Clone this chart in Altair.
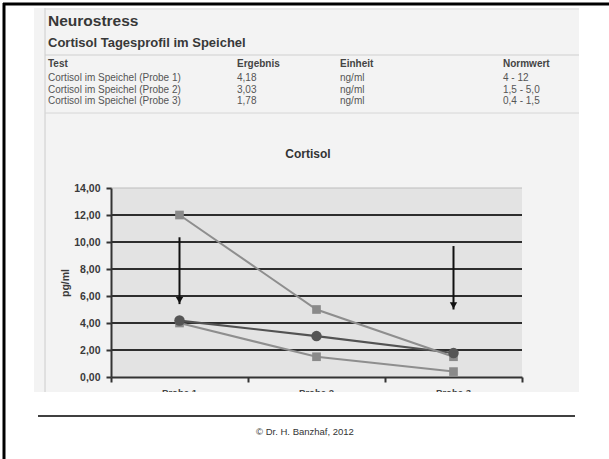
import altair as alt
import pandas as pd

# ---------------- data ----------------
categories = ["Probe 1", "Probe 2", "Probe 3"]
ergebnis = [4.18, 3.03, 1.78]
norm_oben = [12.0, 5.0, 1.5]
norm_unten = [4.0, 1.5, 0.4]
y_ticks = [0, 2, 4, 6, 8, 10, 12, 14]
grid_values = [2, 4, 6, 8, 10, 12]
arrow_cat = ["Probe 1", "Probe 3"]
arrow_from = [10.35, 9.7]
arrow_to = [5.4, 5.0]

table_header = ["Test", "Ergebnis", "Einheit", "Normwert"]
table_test = ["Cortisol im Speichel (Probe 1)", "Cortisol im Speichel (Probe 2)",
              "Cortisol im Speichel (Probe 3)"]
table_ergebnis = ["4,18", "3,03", "1,78"]
table_einheit = ["ng/ml", "ng/ml", "ng/ml"]
table_normwert = ["4 - 12", "1,5 - 5,0", "0,4 - 1,5"]

title_main = "Neurostress"
title_sub = "Cortisol Tagesprofil im Speichel"
chart_title = "Cortisol"
footer = "\u00a9 Dr. H. Banzhaf, 2012"

# ---------------- layout helpers ----------------
FONT = "Liberation Sans"
W, H = 411, 189
OX, OY = 111, 188  # plot origin on the page


def px(x):
    return x - OX


def py(y):
    return y - OY


dummy = pd.DataFrame({"d": [0]})

rows = []
for name, vals in [("Ergebnis", ergebnis), ("Normwert oben", norm_oben),
                   ("Normwert unten", norm_unten)]:
    for i, (c, v) in enumerate(zip(categories, vals)):
        rows.append({"series": name, "cat": c, "pos": i + 1, "value": v})
df = pd.DataFrame(rows)
df_res = df[df.series == "Ergebnis"]
df_norm = df[df.series != "Ergebnis"]

xscale = alt.Scale(domain=[0.5, 3.5], nice=False, zero=False)
yscale = alt.Scale(domain=[0, 14], nice=False, zero=True)

x_axis = alt.Axis(values=[0.5, 1.5, 2.5, 3.5], labels=False, title=None, grid=False,
                  domainColor="#333333", domainWidth=2, tickColor="#333333",
                  tickWidth=2, tickSize=5, zindex=1)
y_axis = alt.Axis(values=y_ticks, grid=False, title="pg/ml",
                  labelExpr="replace(format(datum.value, '.2f'), '.', ',')",
                  labelFont=FONT, labelFontSize=10.5, labelFontWeight="bold",
                  labelColor="#3a3a3a", labelPadding=6,
                  titleFont=FONT, titleFontSize=10.5, titleFontWeight="bold",
                  titleColor="#3a3a3a", titlePadding=3,
                  domainColor="#333333", domainWidth=2, tickColor="#333333",
                  tickWidth=2, tickSize=5, zindex=1)


def X(field):
    return alt.X(field, scale=xscale, axis=x_axis)


def Y(field):
    return alt.Y(field, scale=yscale, axis=y_axis)


def rect(x1, x2, y1, y2, color):
    return alt.Chart(dummy).mark_rect(color=color).encode(
        x=alt.value(x1), x2=alt.value(x2), y=alt.value(y1), y2=alt.value(y2))


def hline(x1, x2, y, color, w=1.0):
    return alt.Chart(dummy).mark_rule(color=color, strokeWidth=w).encode(
        x=alt.value(x1), x2=alt.value(x2), y=alt.value(y))


def vline(x, y1, y2, color, w=1.0):
    return alt.Chart(dummy).mark_rule(color=color, strokeWidth=w).encode(
        x=alt.value(x), y=alt.value(y1), y2=alt.value(y2))


def text(t, x, y, size, weight="normal", color="#333333", align="left"):
    return alt.Chart(pd.DataFrame({"t": [t]})).mark_text(
        font=FONT, fontSize=size, fontWeight=weight, color=color, align=align,
        baseline="alphabetic").encode(text="t:N", x=alt.value(x), y=alt.value(y))


layers = []
# document background and frame lines
layers.append(rect(px(34), px(579), py(8), py(392), "#f3f3f3"))
layers.append(vline(px(45), py(8), py(392), "#cccccc"))
layers.append(hline(px(45), px(579), py(9), "#dddddd"))
layers.append(hline(px(45), px(579), py(55), "#cfcfcf"))
layers.append(hline(px(45), px(579), py(113), "#d6d6d6"))

# plot area fill
layers.append(rect(0, W, 0, H, "#e3e3e3"))

# grid lines
grid_df = pd.DataFrame({"value": grid_values})
layers.append(alt.Chart(grid_df).mark_rule(color="#2e2e2e", strokeWidth=2).encode(
    y=Y("value:Q"), x=alt.value(0), x2=alt.value(W)))
top_df = pd.DataFrame({"value": [14]})
layers.append(alt.Chart(top_df).mark_rule(color="#bdbdbd", strokeWidth=1).encode(
    y=Y("value:Q"), x=alt.value(0), x2=alt.value(W)))

# series lines
layers.append(alt.Chart(df_res).mark_line(color="#525252", strokeWidth=2.2).encode(
    x=X("pos:Q"), y=Y("value:Q")))
layers.append(alt.Chart(df_norm).mark_line(color="#8e8e8e", strokeWidth=2).encode(
    x=X("pos:Q"), y=Y("value:Q"), detail="series:N"))
layers.append(alt.Chart(df_norm).mark_point(shape="square", filled=True, opacity=1,
                                            color="#8a8a8a", size=75).encode(
    x=X("pos:Q"), y=Y("value:Q")))
layers.append(alt.Chart(df_res).mark_point(shape="circle", filled=True, opacity=1,
                                           color="#555555", size=110).encode(
    x=X("pos:Q"), y=Y("value:Q")))

# arrows
arr = pd.DataFrame({"cat": arrow_cat, "von": arrow_from, "bis": arrow_to})
arr["pos"] = [categories.index(c) + 1 for c in arrow_cat]
layers.append(alt.Chart(arr).mark_rule(color="#111111", strokeWidth=2).encode(
    x=X("pos:Q"), y=Y("von:Q"), y2="bis:Q"))
layers.append(alt.Chart(arr).mark_point(shape="triangle-down", filled=True, opacity=1,
                                        color="#111111", size=55, yOffset=-4).encode(
    x=X("pos:Q"), y=Y("bis:Q")))

# x category labels (cut off at the bottom of the scan)
lab = pd.DataFrame({"cat": categories, "pos": list(range(1, len(categories) + 1))})
layers.append(alt.Chart(lab).mark_text(font=FONT, fontSize=9.5, fontWeight="bold",
                                       color="#444444", baseline="alphabetic").encode(
    x=X("pos:Q"), y=alt.value(py(396)), text="cat:N"))
layers.append(rect(px(30), px(600), py(392), py(410), "#ffffff"))

# headings
layers.append(text(title_main, px(48), py(26), 15.5, "bold", "#383838"))
layers.append(text(title_sub, px(48), py(47), 13, "bold", "#383838"))
layers.append(text(chart_title, px(308), py(158), 12, "bold", "#333333", "center"))

# table
col_x = [48, 237, 340, 503]
for h, cx in zip(table_header, col_x):
    layers.append(text(h, px(cx), py(67), 10, "bold", "#444444"))
row_y = [81, 93, 104]
for r, ry in enumerate(row_y):
    for vals, cx in zip([table_test, table_ergebnis, table_einheit, table_normwert], col_x):
        layers.append(text(vals[r], px(cx), py(ry), 10, "normal", "#555555"))

# footer
layers.append(hline(px(38), px(575), py(416), "#000000", 1.6))
layers.append(text(footer, px(305), py(435), 9.5, "normal", "#333333", "center"))

# slide border (left and top)
layers.append(hline(px(3), px(609), py(4), "#000000", 3))
layers.append(vline(px(4), py(3), py(459), "#000000", 3))

chart = alt.layer(*layers).properties(
    width=W, height=H,
    padding={"left": OX, "top": OY, "right": 609 - OX - W, "bottom": 459 - OY - H},
    autosize=alt.AutoSizeParams(type="none"),
    background="#ffffff",
).configure_view(stroke=None, fill=None)

chart.save("out.html", embed_options={"renderer": "svg", "actions": False})
